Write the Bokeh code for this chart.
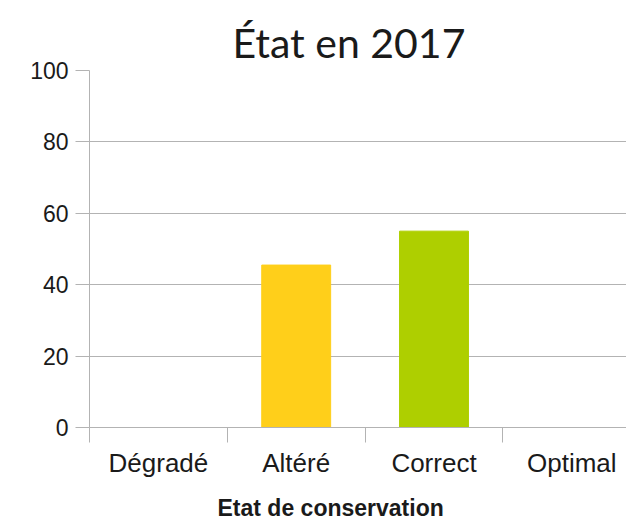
from bokeh.plotting import figure
from bokeh.models import Range1d, FixedTicker, LinearAxis, ColumnDataSource
from bokeh.embed import file_html
from bokeh.resources import INLINE

categories = ["Dégradé", "Altéré", "Correct", "Optimal"]
values = [0, 45.5, 55, 0]
colors = ["#FFCF1A", "#FFCF1A", "#AECF00", "#AECF00"]
y_ticks = [0, 20, 40, 60, 80, 100]
title_text = "État en 2017"
x_label = "Etat de conservation"

xs = [i + 0.5 for i in range(len(categories))]
src = ColumnDataSource(dict(x=xs, top=values, color=colors))

p = figure(width=626, height=523, output_backend="svg", toolbar_location=None,
           x_range=Range1d(0, 3.897), y_range=Range1d(0, 100),
           min_border_left=89, min_border_right=0, min_border_top=70, min_border_bottom=93)
p.outline_line_color = None
p.background_fill_color = "white"
p.border_fill_color = "white"

p.vbar(x="x", top="top", width=0.5, bottom=0, color="color", source=src)

p.title.text = title_text
p.title.text_font = "Lato"
p.title.text_font_size = "41px"
p.title.text_font_style = "normal"
p.title.text_color = "#1a1a1a"
p.title.align = "left"
p.title.offset = 143
p.title.standoff = 7

xa = p.xaxis[0]
xa.ticker = FixedTicker(ticks=xs, minor_ticks=[0, 1, 2, 3, 4])
xa.major_label_overrides = {x: c for x, c in zip(xs, categories)}
xa.major_tick_out = 0
xa.major_tick_in = 0
xa.minor_tick_out = 15
xa.minor_tick_in = 0
xa.minor_tick_line_color = "#b3b3b3"
xa.axis_line_color = "#b3b3b3"
xa.major_label_text_font = "Liberation Sans"
xa.major_label_text_font_size = "26px"
xa.major_label_text_color = "#1a1a1a"
xa.major_label_standoff = 5

# axis title, placed left of the frame centre as in the source chart
title_pos = 1.75
xt = LinearAxis(ticker=FixedTicker(ticks=[title_pos], minor_ticks=[]),
                major_label_overrides={title_pos: x_label},
                major_tick_out=0, major_tick_in=0, minor_tick_out=0, minor_tick_in=0,
                axis_line_color=None, major_label_standoff=14,
                major_label_text_font="Liberation Sans", major_label_text_font_size="23px",
                major_label_text_font_style="bold", major_label_text_color="#1a1a1a")
p.add_layout(xt, "below")

ya = p.yaxis[0]
ya.ticker = FixedTicker(ticks=y_ticks)
ya.major_tick_out = 14
ya.major_tick_in = 0
ya.minor_tick_out = 0
ya.minor_tick_in = 0
ya.major_tick_line_color = "#b3b3b3"
ya.axis_line_color = "#b3b3b3"
ya.major_label_text_font = "Liberation Sans"
ya.major_label_text_font_size = "23px"
ya.major_label_text_color = "#1a1a1a"
ya.major_label_standoff = 7

p.xgrid.grid_line_color = None
p.ygrid.grid_line_color = "#b3b3b3"
p.ygrid.ticker = FixedTicker(ticks=y_ticks)

open("out.html", "w").write(file_html(p, INLINE))
